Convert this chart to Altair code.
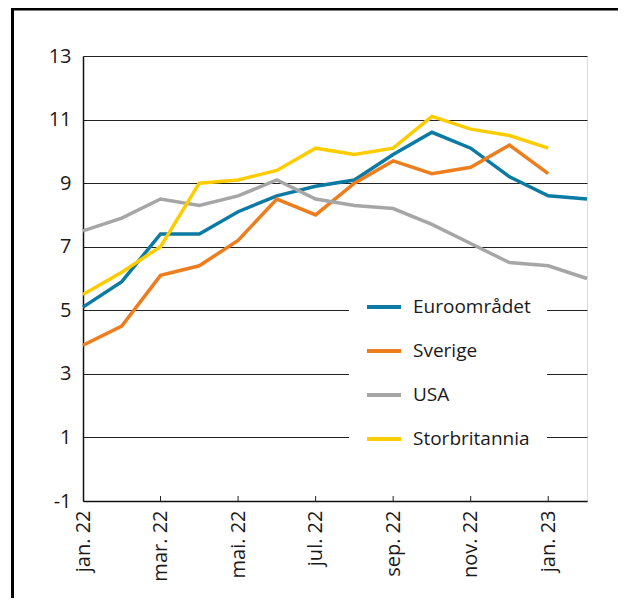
import altair as alt
import pandas as pd

months = ["jan. 22", "feb. 22", "mar. 22", "apr. 22", "mai. 22", "jun. 22", "jul. 22",
          "aug. 22", "sep. 22", "okt. 22", "nov. 22", "des. 22", "jan. 23", "feb. 23"]
tick_months = ["jan. 22", "mar. 22", "mai. 22", "jul. 22", "sep. 22", "nov. 22", "jan. 23"]
series = ["Euroområdet", "Sverige", "USA", "Storbritannia"]
colors = ["#0b7ba3", "#ee7d1e", "#a6a6a6", "#ffcc00"]

euro = [5.1, 5.9, 7.4, 7.4, 8.1, 8.6, 8.9, 9.1, 9.9, 10.6, 10.1, 9.2, 8.6, 8.5]
sverige = [3.9, 4.5, 6.1, 6.4, 7.2, 8.5, 8.0, 9.0, 9.7, 9.3, 9.5, 10.2, 9.3]
usa = [7.5, 7.9, 8.5, 8.3, 8.6, 9.1, 8.5, 8.3, 8.2, 7.7, 7.1, 6.5, 6.4, 6.0]
uk = [5.5, 6.2, 7.0, 9.0, 9.1, 9.4, 10.1, 9.9, 10.1, 11.1, 10.7, 10.5, 10.1]
y_ticks = [-1, 1, 3, 5, 7, 9, 11, 13]

rows = []
for name, vals in zip(series, [euro, sverige, usa, uk]):
    for m, v in zip(months, vals):
        rows.append({"month": m, "series": name, "value": v})
df = pd.DataFrame(rows)

FONT = "Open Sans"

x_enc = alt.X("month:O", sort=months, scale=alt.Scale(type="point", padding=0, domain=months),
              axis=alt.Axis(values=tick_months, labelAngle=-90, labelFontSize=20, labelFont=FONT,
                            labelColor="#1a1a1a", ticks=False, labelPadding=9, grid=False,
                            domainColor="#111", domainWidth=1.5, title=None))

lines = alt.Chart(df).mark_line(strokeWidth=3.5, strokeJoin="miter").encode(
    x=x_enc,
    y=alt.Y("value:Q", scale=alt.Scale(domain=[-1, 13], nice=False, zero=False),
            axis=alt.Axis(values=y_ticks, labelExpr="'' + datum.value",
                          labelFontSize=20, labelFont=FONT, labelColor="#1a1a1a",
                          ticks=False, labelPadding=12, grid=True, gridColor="#222",
                          gridWidth=1, domainColor="#111", domainWidth=1.5, title=None)),
    color=alt.Color("series:N", sort=series,
                    scale=alt.Scale(domain=series, range=colors),
                    legend=alt.Legend(title=None, orient="none", legendX=266, legendY=216,
                                      fillColor="white", padding=16, symbolType="stroke",
                                      symbolSize=1156, symbolStrokeWidth=4,
                                      labelFontSize=19, labelFont=FONT, labelColor="#1a1a1a",
                                      rowPadding=15, labelOffset=10)),
)

tick_df = pd.DataFrame({"month": tick_months[1:]})
ticks = alt.Chart(tick_df).mark_rule(color="#222", strokeWidth=1).encode(
    x=alt.X("month:O", sort=months),
    y=alt.value(440), y2=alt.value(445),
)

frame_df = pd.DataFrame({"k": [0]})
frame_left = alt.Chart(frame_df).mark_rule(color="black", strokeWidth=3).encode(
    x=alt.value(-70.5), y=alt.value(-47), y2=alt.value(600))
frame_top = alt.Chart(frame_df).mark_rule(color="black", strokeWidth=3).encode(
    y=alt.value(-47), x=alt.value(-72), x2=alt.value(600))

chart = alt.layer(lines, ticks, frame_left, frame_top).properties(
    width=504, height=445,
    padding={"left": 75, "top": 48, "right": 31, "bottom": 97},
    autosize=alt.AutoSizeParams(type="none"),
).configure_view(stroke="#555", strokeWidth=1.5).configure(background="white")

chart.save("out.html", embed_options={"renderer": "svg", "actions": False})
